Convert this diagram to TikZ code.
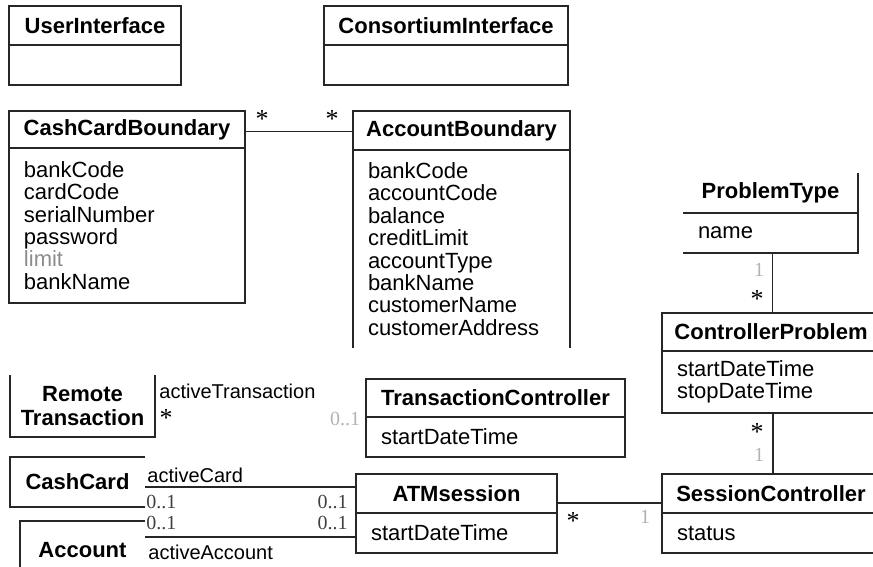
\documentclass[tikz,border=0pt]{standalone}
\usepackage{fontspec}
\setmainfont{Liberation Sans}
\newfontfamily\multfont{Liberation Serif}

\tikzset{
  classhead/.style={draw=black!85, line width=0.6pt, anchor=north west, inner sep=0pt, outer sep=0pt,
    align=center, font=\fontsize{11}{12}\selectfont\bfseries},
  classbody/.style={draw=black!85, line width=0.6pt, anchor=north west, inner xsep=7.5pt, inner ysep=0pt,
    outer sep=0pt, align=left, font=\fontsize{11}{11.2}\selectfont},
  assoc/.style={draw=black!85, line width=0.6pt},
  role/.style={font=\fontsize{10}{12}\selectfont, inner sep=0pt},
  mult/.style={font=\multfont\fontsize{10}{12}\selectfont, text=black!75, inner sep=0pt},
  star/.style={font=\multfont\fontsize{13}{14}\selectfont, inner sep=0pt},
  faint/.style={text=black!30}
}

\begin{document}
\begin{tikzpicture}[x=0.5pt, y=-0.5pt]
\useasboundingbox (0,0) rectangle (873,567);
\clip (0,0) rectangle (873,567);

% Interfaces
\node[classhead, minimum width=86pt, minimum height=19.5pt] (uih) at (9,6) {UserInterface};
\node[classbody, minimum width=86pt, minimum height=20pt] (uib) at (uih.south west) {};
\node[classhead, minimum width=122pt, minimum height=19.5pt] (cih) at (324,6) {ConsortiumInterface};
\node[classbody, minimum width=122pt, minimum height=20pt] (cib) at (cih.south west) {};

% Boundaries
\node[classhead, minimum width=118pt, minimum height=18.5pt] (ccbh) at (9,111) {CashCardBoundary};
\node[classbody, text width=103pt, minimum height=77.5pt] (ccbb) at (ccbh.south west)
  {bankCode\\cardCode\\serialNumber\\password\\\textcolor{black!45}{limit}\\bankName};

\node[classhead, minimum width=108.5pt, minimum height=19.5pt] (abh) at (353,111) {AccountBoundary};
\node[classbody, draw=none, text width=93.5pt, minimum height=99pt] (abb) at (abh.south west)
  {bankCode\\accountCode\\balance\\creditLimit\\accountType\\bankName\\customerName\\customerAddress};
\draw[assoc] (abb.north west) -- (abb.south west) (abb.north east) -- (abb.south east);

\draw[assoc] ([yshift=-1.2pt]ccbh.east) -- ([yshift=-1.2pt]ccbh.east -| abh.west);
\node[star] (ccbstar) at (262,119) {*};
\node[star] (abstar) at (332,119) {*};

% Problems
\node[classhead, draw=none, minimum width=87.5pt, minimum height=20pt] (pth) at (683,173) {ProblemType};
\node[classbody, draw=none, text width=72.5pt, minimum height=20pt] (ptb) at (pth.south west) {name};
\draw[assoc] (pth.north east) -- (ptb.south east) -- (ptb.south west);
\draw[assoc] (ptb.north west) -- (ptb.north east);

\node[classhead, minimum width=109pt, minimum height=19pt] (cph) at (662,313) {ControllerProblem};
\node[classbody, text width=94pt, minimum height=31pt] (cpb) at (cph.south west) {startDateTime\\stopDateTime};

\node[classhead, minimum width=109pt, minimum height=19.5pt] (sch) at (662,474) {SessionController};
\node[classbody, text width=94pt, minimum height=20pt] (scb) at (sch.south west) {status};

\draw[assoc] ([xshift=1pt]ptb.south) -- ([xshift=1pt]ptb.south |- cph.north);
\node[mult, faint] (ptone) at (759,270) {1};
\node[star] (ptstar) at (757,299) {*};
\draw[assoc] ([xshift=1pt]cpb.south) -- ([xshift=1pt]cpb.south |- sch.north);
\node[star] (cpstar) at (757,432) {*};
\node[mult, faint] (scone) at (759,455) {1};

% Session and transaction
\node[classhead, minimum width=129.5pt, minimum height=19pt] (tch) at (366,379) {TransactionController};
\node[classbody, text width=114.5pt, minimum height=20pt] (tcb) at (tch.south west) {startDateTime};

\node[classhead, minimum width=100.5pt, minimum height=19.5pt] (atmh) at (356,474) {ATMsession};
\node[classbody, text width=85.5pt, minimum height=20pt] (atmb) at (atmh.south west) {startDateTime};

\draw[assoc] ([yshift=-4.75pt]atmh.east) -- ([yshift=-4.75pt]atmh.east -| sch.west);
\node[star] (atmstar) at (573,521) {*};
\node[mult, faint] (atmone) at (645,517) {1};

% Remote transaction
\node[classhead, draw=none, minimum width=72.5pt, minimum height=31pt] (rt) at (10,375) {Remote\\Transaction};
\draw[assoc] (rt.north west) -- (rt.south west) -- (rt.south east) -- (rt.north east);
\node[role, anchor=west] (rtrole) at (159,391) {activeTransaction};
\node[star] (rtstar) at (166,418) {*};
\node[mult, faint] (tcmult) at (345,419) {0..1};

% Card and account
\node[classhead, draw=none, minimum width=67.5pt, minimum height=25pt] (cc) at (10,457) {CashCard};
\draw[assoc] (cc.north east) -- (cc.north west) -- (cc.south west) -- (cc.south east);
\node[classhead, draw=none, minimum width=62.5pt, minimum height=29pt] (acc) at (20,521) {Account};
\draw[assoc] (acc.north east) -- (acc.north west) -- (acc.south west);

\draw[assoc] ([yshift=-2.5pt]cc.east) -- ([yshift=-2.5pt]cc.east -| atmh.west);
\draw[assoc] ([yshift=6.5pt]acc.east) -- ([yshift=6.5pt]acc.east -| atmb.west);

\node[role, anchor=west] (ccrole) at (147,475) {activeCard};
\node[mult, anchor=west] (ccmult) at (146,502) {0..1};
\node[mult, anchor=east] (atmcmult) at (348,502) {0..1};
\node[mult, anchor=west] (accmult) at (146,523) {0..1};
\node[mult, anchor=east] (atmamult) at (348,523) {0..1};
\node[role, anchor=west] (accrole) at (148,552) {activeAccount};

\end{tikzpicture}
\end{document}
